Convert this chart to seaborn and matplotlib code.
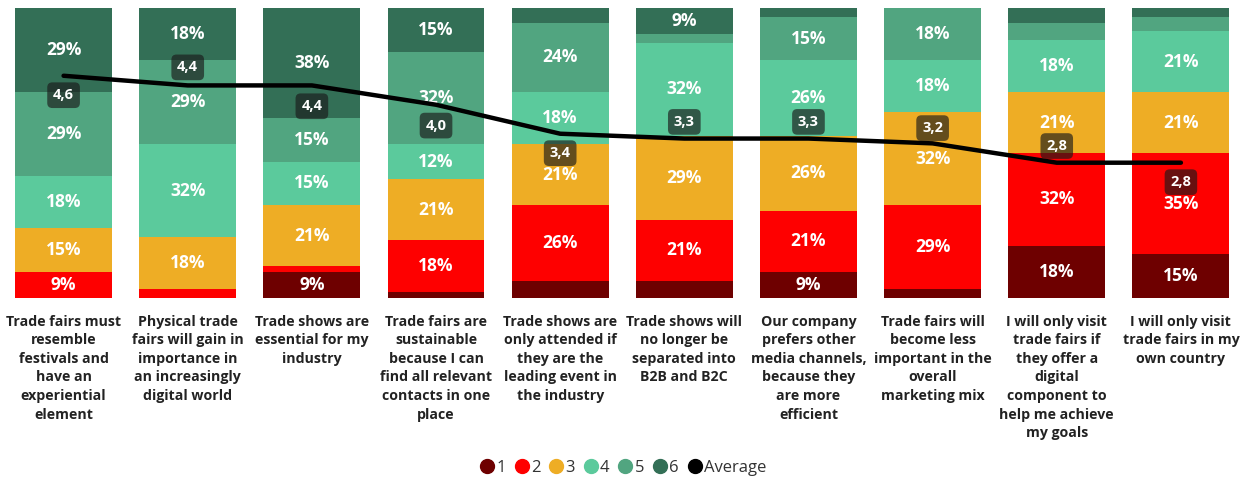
import matplotlib
matplotlib.use("Agg")
import matplotlib.pyplot as plt
from matplotlib.lines import Line2D
import numpy as np
import pandas as pd
import seaborn as sns

# Survey statements (x axis)
statements = [
    "Trade fairs must\nresemble\nfestivals and\nhave an\nexperiential\nelement",
    "Physical trade\nfairs will gain in\nimportance in\nan increasingly\ndigital world",
    "Trade shows are\nessential for my\nindustry",
    "Trade fairs are\nsustainable\nbecause I can\nfind all relevant\ncontacts in one\nplace",
    "Trade shows are\nonly attended if\nthey are the\nleading event in\nthe industry",
    "Trade shows will\nno longer be\nseparated into\nB2B and B2C",
    "Our company\nprefers other\nmedia channels,\nbecause they\nare more\nefficient",
    "Trade fairs will\nbecome less\nimportant in the\noverall\nmarketing mix",
    "I will only visit\ntrade fairs if\nthey offer a\ndigital\ncomponent to\nhelp me achieve\nmy goals",
    "I will only visit\ntrade fairs in my\nown country",
]

# Share of answers per rating (percent)
rating_1 = [0, 0, 9, 2, 6, 6, 9, 3, 18, 15]
rating_2 = [9, 3, 2, 18, 26, 21, 21, 29, 32, 35]
rating_3 = [15, 18, 21, 21, 21, 29, 26, 32, 21, 21]
rating_4 = [18, 32, 15, 12, 18, 32, 26, 18, 18, 21]
rating_5 = [29, 29, 15, 32, 24, 3, 15, 18, 6, 5]
rating_6 = [29, 18, 38, 15, 5, 9, 3, 0, 5, 3]

# Mean rating per statement
average = [4.6, 4.4, 4.4, 4.0, 3.4, 3.3, 3.3, 3.2, 2.8, 2.8]

rating_names = ["1", "2", "3", "4", "5", "6"]
ratings = [rating_1, rating_2, rating_3, rating_4, rating_5, rating_6]

colors = ["#6E0000", "#FE0000", "#EEAD25", "#5BCA9C", "#51A580", "#336F56"]

sns.set_theme(style="white")
plt.rcParams["font.family"] = ["Open Sans", "DejaVu Sans"]

fig = plt.figure(figsize=(12.52, 4.79), dpi=100)
ax = fig.add_axes([0.0012, 0.378, 0.9916, 0.605])

x = np.arange(len(statements))
bottom = np.zeros(len(statements))
for name, vals, col in zip(rating_names, ratings, colors):
    vals = np.array(vals, dtype=float)
    ax.bar(x, vals, bottom=bottom, width=0.78, color=col, linewidth=0)
    for xi, b, v in zip(x, bottom, vals):
        if v >= 9:
            ax.text(xi, b + v / 2, f"{int(v)}%", ha="center", va="center",
                    color="white", fontsize=12.5, fontweight="bold")
    bottom += vals

ax.set_xlim(-0.5, len(statements) - 0.5)
ax.set_ylim(0, 100)
ax.set_xticks(x)
ax.set_xticklabels(statements, fontsize=10.2, fontweight="bold", color="#222222",
                   linespacing=1.42, va="top")
ax.tick_params(axis="x", length=0, pad=12)
ax.set_yticks([])
for s in ax.spines.values():
    s.set_visible(False)

# Average rating on a secondary scale
ax2 = ax.twinx()
df_avg = pd.DataFrame({"pos": x, "average": average})
sns.lineplot(data=df_avg, x="pos", y="average", ax=ax2, color="black",
             linewidth=3.2, legend=False)
ax2.set_ylim(0, 6)
ax2.set_xlim(-0.5, len(statements) - 0.5)
ax2.set_yticks([])
ax2.set_ylabel("")
ax2.set_xlabel("")
for s in ax2.spines.values():
    s.set_visible(False)

label_offsets = [-14, 13, -15, -15, -14, 12, 12, 11, 12, -14]
for xi, v, off in zip(x, average, label_offsets):
    ax2.annotate(f"{v:.1f}".replace(".", ","), (xi, v), xytext=(0, off),
                 textcoords="offset points", ha="center", va="center",
                 color="white", fontsize=10.5, fontweight="bold",
                 bbox=dict(boxstyle="round,pad=0.4,rounding_size=0.35",
                           fc=(0.1, 0.1, 0.1, 0.65), ec="none"))

handles = [Line2D([], [], marker="o", linestyle="none", markersize=10,
                  markerfacecolor=c, markeredgecolor=c) for c in colors]
handles.append(Line2D([], [], marker="o", linestyle="none", markersize=10,
                      markerfacecolor="black", markeredgecolor="black"))
fig.legend(handles, rating_names + ["Average"], loc="center",
           bbox_to_anchor=(0.497, 0.023), ncol=7, frameon=False,
           fontsize=12, handletextpad=0.0, columnspacing=0.4,
           handlelength=1.1, labelcolor="#333333")

fig.savefig("out.png", dpi=100)
